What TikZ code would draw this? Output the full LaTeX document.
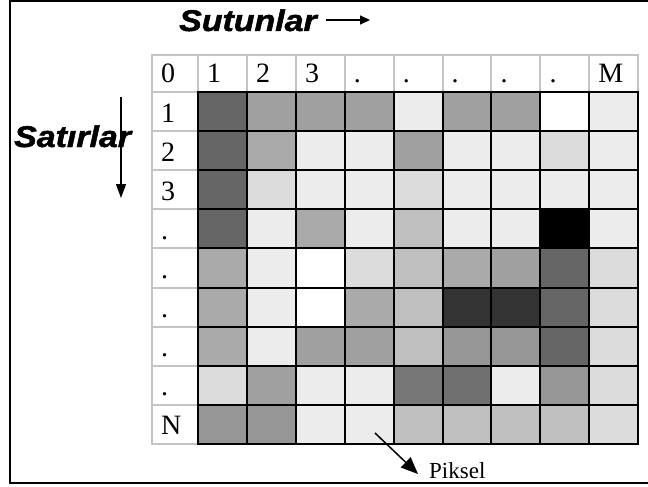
\documentclass[tikz,border=0pt]{standalone}
\usepackage{fontspec}
\setmainfont{Liberation Serif}
\newfontfamily\headfont{Liberation Sans}[BoldItalicFeatures={FakeBold=1.6}]
\usetikzlibrary{arrows.meta}
\definecolor{hdrgray}{HTML}{C4C4C4}
\definecolor{c00}{HTML}{000000}
\definecolor{c33}{HTML}{333333}
\definecolor{c66}{HTML}{666666}
\definecolor{c70}{HTML}{707070}
\definecolor{c77}{HTML}{777777}
\definecolor{c96}{HTML}{969696}
\definecolor{cA0}{HTML}{A0A0A0}
\definecolor{cAA}{HTML}{AAAAAA}
\definecolor{cC0}{HTML}{C0C0C0}
\definecolor{cDC}{HTML}{DCDCDC}
\definecolor{cEC}{HTML}{ECECEC}
\definecolor{cFF}{HTML}{FFFFFF}
\begin{document}
\begin{tikzpicture}[x=1pt,y=-1pt,
  cellbox/.style={draw=black, line width=2pt, minimum width=48.9pt, minimum height=39.1pt, inner sep=0pt, outer sep=0pt, anchor=north west},
  hdrbox/.style={draw=hdrgray, line width=2pt, fill=white, inner sep=0pt, outer sep=0pt, anchor=north west},
  hdrtext/.style={font=\fontsize{28}{28}\selectfont, anchor=base west, inner sep=0pt},
  titletext/.style={font=\headfont\bfseries\itshape\fontsize{30}{30}\selectfont, anchor=base west, inner sep=0pt},
]
\useasboundingbox (0,0) rectangle (648,487);
\fill[white] (0,0) rectangle (648,487);
% frame
\draw[line width=2pt] (648,1) -- (10,1) -- (10,483) -- (648,483);

% header row
\node[hdrbox, minimum width=46pt, minimum height=37pt] (h-0) at (152,55) {};
\node[hdrtext] (ht-0) at ([shift={(9,-9)}]h-0.south west) {0};
\foreach \t [count=\j] in {1,2,3,.,.,.,.,.,M} {
  \node[hdrbox, minimum width=48.9pt, minimum height=37pt] (h-\j) at ({198+48.9*(\j-1)},55) {};
  \node[hdrtext] (ht-\j) at ([shift={(9,-9)}]h-\j.south west) {\t};
}
% header column
\foreach \t [count=\i] in {1,2,3,.,.,.,.,.,N} {
  \node[hdrbox, minimum width=46pt, minimum height=39.1pt] (v-\i) at (152,{92+39.1*(\i-1)}) {};
  \node[hdrtext] (vt-\i) at ([shift={(9,-9)}]v-\i.south west) {\t};
}
% pixel cells
\foreach \rowcols [count=\i] in {
  {c66,cA0,cA0,cA0,cEC,cA0,cA0,cFF,cEC},
  {c66,cAA,cEC,cEC,cA0,cEC,cEC,cDC,cEC},
  {c66,cDC,cEC,cEC,cDC,cEC,cEC,cEC,cEC},
  {c66,cEC,cAA,cEC,cC0,cEC,cEC,c00,cEC},
  {cAA,cEC,cFF,cDC,cC0,cAA,cA0,c66,cDC},
  {cAA,cEC,cFF,cAA,cC0,c33,c33,c66,cDC},
  {cAA,cEC,cA0,cA0,cC0,c96,c96,c66,cDC},
  {cDC,cA0,cEC,cEC,c77,c70,cEC,c96,cDC},
  {c96,c96,cEC,cEC,cC0,cC0,cC0,cC0,cDC}} {
  \foreach \cc [count=\j] in \rowcols {
    \node[cellbox, fill=\cc] (p-\i-\j) at ({198+48.9*(\j-1)},{92+39.1*(\i-1)}) {};
  }
}

% titles
\node[titletext] (sut) at (179,31) {\scalebox{1.13}[1]{Sutunlar}};
\coordinate (sa1) at (326,20);
\coordinate (sa2) at (370,20);
\draw[line width=1.3pt, -{Triangle[length=10pt,width=9pt]}] (sa1) -- (sa2);

\node[titletext] (sat) at (14,147) {\scalebox{1.13}[1]{Satırlar}};
\coordinate (va1) at (121,97);
\coordinate (va2) at (121,198);
\draw[line width=1.3pt, -{Triangle[length=14pt,width=10pt]}] (va1) -- (va2);

% pixel pointer
\coordinate (pa1) at (375,433);
\coordinate (pa2) at (418,474);
\draw[line width=1.5pt, -{Triangle[length=17pt,width=14pt]}] (pa1) -- (pa2);
\node[font=\fontsize{23}{23}\selectfont, anchor=base west, inner sep=0pt] (pk) at (429,478) {Piksel};
\end{tikzpicture}
\end{document}
